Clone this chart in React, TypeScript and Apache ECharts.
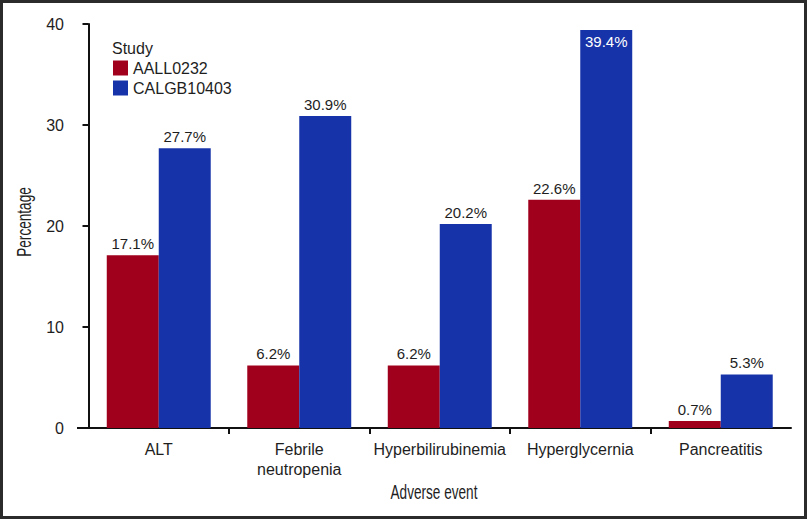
import React, { useEffect, useRef } from "react";
import * as echarts from "echarts";

const categories = ["ALT", "Febrile\nneutropenia", "Hyperbilirubinemia", "Hyperglycernia", "Pancreatitis"];
const seriesNames = ["AALL0232", "CALGB10403"];
const aall0232 = [17.1, 6.2, 6.2, 22.6, 0.7];
const calgb10403 = [27.7, 30.9, 20.2, 39.4, 5.3];
const yTicks = [0, 10, 20, 30, 40];
const xTitle = "Adverse event";
const yTitle = "Percentage";

const RED = "#A1001D";
const BLUE = "#1733A9";
const TEXT = "#1e1e1e";
const FONT = "'Liberation Sans', Arial, sans-serif";

export default function App() {
  const ref = useRef<HTMLDivElement>(null);
  useEffect(() => {
    if (!ref.current) return;
    const chart = echarts.init(ref.current, null, { renderer: "svg" });
    const GL = 88.5, GR = 16, GT = 24, GB = 91;
    const axisY = 519 - GB;
    const fmt = (p: any) => `${p.value}%`;
    chart.setOption({
      animation: false,
      textStyle: { fontFamily: FONT },
      title: {
        text: "Study",
        left: 112,
        top: 40,
        padding: 0,
        textStyle: { fontSize: 16, fontWeight: "normal", color: TEXT, fontFamily: FONT },
      },
      legend: {
        orient: "vertical",
        left: 113,
        top: 60,
        padding: 0,
        itemWidth: 15,
        itemHeight: 15,
        itemGap: 4,
        icon: "rect",
        textStyle: { fontSize: 16, color: TEXT, fontFamily: FONT },
        data: seriesNames,
      },
      grid: { left: GL, right: GR, top: GT, bottom: GB },
      xAxis: [
        {
          type: "category",
          data: categories,
          axisLine: { lineStyle: { color: "#111", width: 2 } },
          axisTick: { show: false },
          axisLabel: { fontSize: 16, color: TEXT, margin: 11, lineHeight: 20, interval: 0 },
        },
        {
          type: "value",
          min: 0,
          max: 5,
          position: "bottom",
          axisLine: { show: false },
          axisLabel: { show: false },
          splitLine: { show: false },
          axisTick: { show: true, length: 6, customValues: [1, 2, 3, 4], lineStyle: { color: "#111", width: 2 } },
        },
      ],
      yAxis: {
        type: "value",
        min: 0,
        max: 40,
        interval: 10,
        offset: 11.5,
        axisLine: { show: true, lineStyle: { color: "#111", width: 2 } },
        axisTick: { show: true, length: 6, lineStyle: { color: "#111", width: 2 } },
        axisLabel: { fontSize: 16, color: TEXT, margin: 13, customValues: yTicks },
        splitLine: { show: false },
      },
      graphic: [
        {
          type: "line",
          shape: { x1: 77, y1: axisY, x2: GL + 1, y2: axisY },
          style: { stroke: "#111", lineWidth: 2 },
          z: 10,
        },
        {
          type: "text",
          x: 434,
          y: 493,
          scaleX: 0.68,
          style: { text: xTitle, fontSize: 20, fontFamily: FONT, fill: TEXT, align: "center", verticalAlign: "middle" },
        },
        {
          type: "text",
          x: 25,
          y: 222,
          rotation: Math.PI / 2,
          scaleX: 0.68,
          style: { text: yTitle, fontSize: 20, fontFamily: FONT, fill: TEXT, align: "center", verticalAlign: "middle" },
        },
      ],
      series: [
        {
          name: seriesNames[0],
          type: "bar",
          data: aall0232,
          barGap: "0%",
          barCategoryGap: "26%",
          itemStyle: { color: RED },
          label: { show: true, position: "top", distance: 4, formatter: fmt, fontSize: 15, color: TEXT },
        },
        {
          name: seriesNames[1],
          type: "bar",
          data: calgb10403.map((v) =>
            v === Math.max(...calgb10403)
              ? { value: v, label: { position: "insideTop", distance: 4, color: "#fff" } }
              : v
          ),
          barGap: "0%",
          barCategoryGap: "26%",
          itemStyle: { color: BLUE },
          label: { show: true, position: "top", distance: 4, formatter: fmt, fontSize: 15, color: TEXT },
        },
      ],
    });
    return () => chart.dispose();
  }, []);
  return (
    <div style={{ position: "fixed", left: 0, top: 0, width: 807, height: 519, background: "#fff" }}>
      <div ref={ref} style={{ position: "absolute", left: 0, top: 0, width: 807, height: 519 }} />
      <div
        style={{
          position: "absolute",
          left: 0,
          top: 0,
          width: 807,
          height: 519,
          boxSizing: "border-box",
          border: "3px solid #2b2b2b",
          pointerEvents: "none",
        }}
      />
    </div>
  );
}
